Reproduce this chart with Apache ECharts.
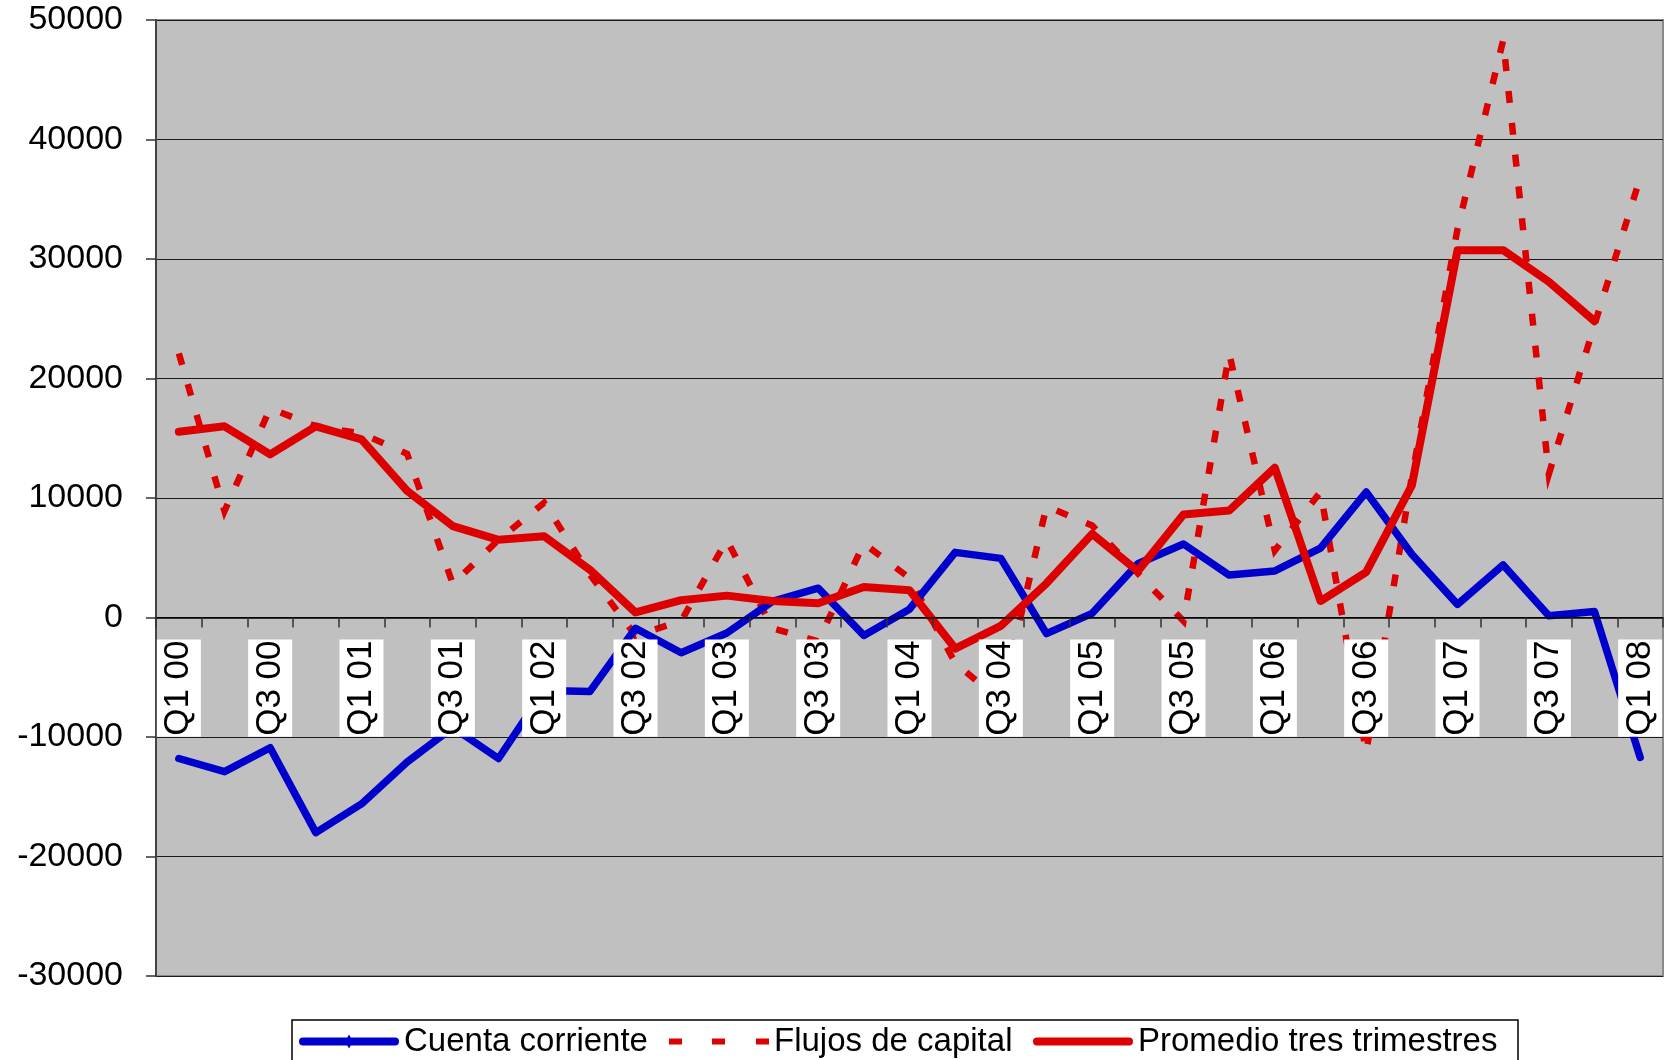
<!DOCTYPE html>
<html>
<head>
<meta charset="utf-8">
<script src="https://cdn.jsdelivr.net/npm/echarts@6/dist/echarts.min.js"></script>
<style>
html,body{margin:0;padding:0;background:#fff;}
#chart{width:1665px;height:1060px;}
</style>
</head>
<body>
<div id="chart"></div>
<script>
var categories = ["Q1 00","Q2 00","Q3 00","Q4 00","Q1 01","Q2 01","Q3 01","Q4 01",
  "Q1 02","Q2 02","Q3 02","Q4 02","Q1 03","Q2 03","Q3 03","Q4 03",
  "Q1 04","Q2 04","Q3 04","Q4 04","Q1 05","Q2 05","Q3 05","Q4 05",
  "Q1 06","Q2 06","Q3 06","Q4 06","Q1 07","Q2 07","Q3 07","Q4 07","Q1 08"];

var cuentaCorriente = [-11800,-12900,-10900,-18000,-15600,-12100,-9200,-11800,
  -6100,-6200,-900,-2950,-1300,1350,2450,-1500,
  700,5450,4950,-1350,350,4500,6150,3550,
  3900,5800,10500,5300,1100,4400,150,500,-11700];

var flujosCapital = [22100,8900,17500,16000,15400,13700,2800,6500,
  9600,3600,-1500,-300,6500,-900,-2000,6200,
  3300,-3800,-7000,9300,7700,3700,-300,22100,
  5600,10500,-11300,11800,32500,48300,12000,24500,36800];

var promedioTres = [15550,16000,13650,16000,14900,10600,7650,6500,
  6800,4000,420,1450,1830,1380,1200,2550,
  2280,-2600,-700,2860,7000,3880,8620,8950,
  12530,1380,3800,11050,30740,30740,28100,24800,null];

var seriesNames = ['Cuenta corriente','Flujos de capital','Promedio tres trimestres'];
var yMin = -30000, yMax = 50000, yStep = 10000;

var FONT = "'Liberation Sans', Arial, sans-serif";

var GRID_TOP = 20, GRID_BOTTOM = 84, H = 1060;
var plotH = H - GRID_TOP - GRID_BOTTOM;
var zeroOffset = plotH * (0 - yMin) / (yMax - yMin);

var pill = 'M4,3 H96 A4,4 0 0 1 96,11 H4 A4,4 0 0 1 4,3 Z';
var specks = ' M50,0 L50.02,0 L50.02,0.02 Z M50,14 L50.02,14 L50.02,13.98 Z';
var iconBlue = 'path://' + pill + ' M50,0 L54,7 L50,14 L46,7 Z';
var iconDash = 'path://M0,4 H13 V10 H0 Z M43,4 H56 V10 H43 Z M87,4 H100 V10 H87 Z' + specks;
var iconRed = 'path://' + pill + specks;

function mkLegend(name, icon, left){
  return {
    top:1025, left:left, padding:0,
    itemWidth:100, itemHeight:14, symbolKeepAspect:false,
    textStyle:{fontFamily:FONT, fontSize:33, color:'#000'},
    data:[{name:name, icon:icon}]
  };
}

var chart = echarts.init(document.getElementById('chart'), null, {renderer:'canvas'});
chart.setOption({
  animation:false,
  backgroundColor:'#ffffff',
  grid:{left:156, right:2, top:GRID_TOP, bottom:GRID_BOTTOM, containLabel:false, outerBoundsMode:'none',
        show:true, backgroundColor:'#c0c0c0', borderColor:'#8a8a8a', borderWidth:2},
  legend:[
    mkLegend(seriesNames[0], iconBlue, 299),
    mkLegend(seriesNames[1], iconDash, 669),
    mkLegend(seriesNames[2], iconRed, 1033)
  ],
  graphic:[{
    type:'rect', silent:true,
    shape:{x:292, y:1020, width:1226, height:60},
    style:{fill:'none', stroke:'#000', lineWidth:1.5}
  }],
  xAxis:{
    type:'category', data:categories, boundaryGap:true, z:5,
    position:'bottom', offset:-zeroOffset,
    axisLine:{show:true, onZero:false, lineStyle:{color:'#000', width:1.5}},
    axisTick:{show:true, interval:0, length:10, alignWithLabel:false, lineStyle:{color:'#333', width:1.5}},
    axisLabel:{
      interval:1, rotate:90, margin:22, hideOverlap:false,
      fontFamily:FONT, fontSize:35, color:'#000',
      backgroundColor:'#ffffff', padding:[2,1,2,1], lineHeight:40
    },
    splitLine:{show:false}
  },
  yAxis:{
    type:'value', min:yMin, max:yMax, interval:yStep,
    axisLine:{show:true, lineStyle:{color:'#444', width:2}},
    axisTick:{show:true, length:10, lineStyle:{color:'#333', width:1.5}},
    axisLabel:{margin:33, fontFamily:FONT, fontSize:34, color:'#000',
      formatter:function(v){ return String(v); }},
    splitLine:{show:true, lineStyle:{color:'#1a1a1a', width:1.2}}
  },
  series:[
    {
      name:seriesNames[0], type:'line', data:cuentaCorriente,
      symbol:'diamond', symbolSize:6, showSymbol:true,
      itemStyle:{color:'#0000cc'},
      lineStyle:{color:'#0000cc', width:7.5, join:'round', cap:'round'},
      z:3
    },
    {
      name:seriesNames[1], type:'line', data:flujosCapital,
      symbol:'none',
      itemStyle:{color:'#dd0000'},
      lineStyle:{color:'#dd0000', width:6.5, type:[12,20], join:'miter'},
      z:2
    },
    {
      name:seriesNames[2], type:'line', data:promedioTres,
      symbol:'none',
      itemStyle:{color:'#dd0000'},
      lineStyle:{color:'#dd0000', width:8, join:'round', cap:'round'},
      z:4
    }
  ]
});
</script>
</body>
</html>
